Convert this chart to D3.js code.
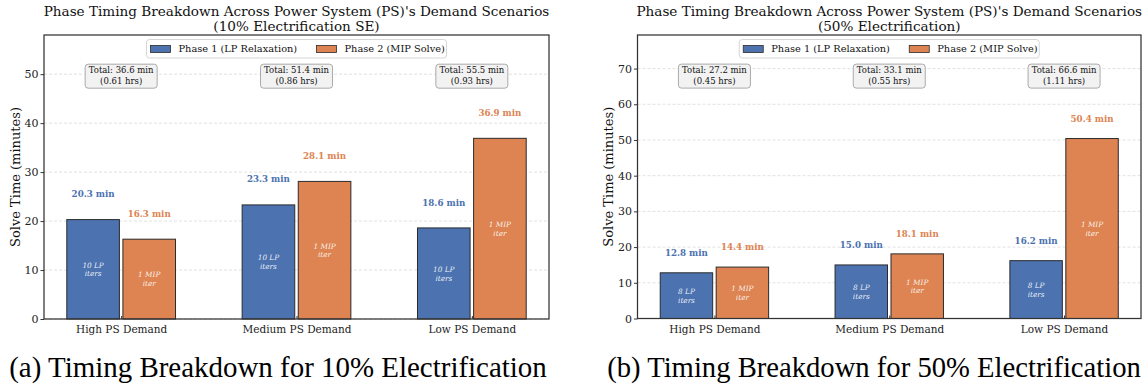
<!DOCTYPE html>
<html>
<head>
<meta charset="utf-8">
<script src="https://cdn.jsdelivr.net/npm/d3@7"></script>
<style>
  body { margin: 0; background: #fff; }
  svg { display: block; }
</style>
</head>
<body>
<div id="chart"></div>
<script>
// scenarios shared by both panels
const scenarios = ["High PS Demand", "Medium PS Demand", "Low PS Demand"];
const seriesNames = ["Phase 1 (LP Relaxation)", "Phase 2 (MIP Solve)"];

// (a) 10% electrification
const lp10 = [20.3, 23.3, 18.6];
const mip10 = [16.3, 28.1, 36.9];
const hrs10 = [0.61, 0.86, 0.93];
const lpIters10 = [10, 10, 10];
const mipIters10 = [1, 1, 1];
const yTicks10 = [0, 10, 20, 30, 40, 50];

// (b) 50% electrification
const lp50 = [12.8, 15.0, 16.2];
const mip50 = [14.4, 18.1, 50.4];
const hrs50 = [0.45, 0.55, 1.11];
const lpIters50 = [8, 8, 8];
const mipIters50 = [1, 1, 1];
const yTicks50 = [0, 10, 20, 30, 40, 50, 60, 70];

const colors = ["#4C72B0", "#DD8452"];
const SERIF = "'DejaVu Serif', serif";
const width = 1148, height = 385;

const svg = d3.select("#chart").append("svg")
  .attr("width", width)
  .attr("height", height)
  .style("font-family", SERIF);

// shrink/grow a text so it spans `target` px
function fitText(sel, base, target) {
  const len = sel.node().getComputedTextLength();
  const size = base * target / len;
  sel.style("font-size", `${size}px`);
  return size;
}

function drawPanel(cfg) {
  const g = svg.append("g");
  const { left, right, top, bottom } = cfg.box;

  const x = d3.scaleLinear().domain([-0.44, 2.44]).range([left, right]);
  const y = d3.scaleLinear().domain([0, cfg.ymax]).range([bottom, top]);
  const barW = x(0.3) - x(0);
  const off = 0.16;

  // grid
  g.append("g")
    .selectAll("line")
    .data(cfg.yTicks)
    .join("line")
    .attr("x1", left).attr("x2", right)
    .attr("y1", d => y(d)).attr("y2", d => y(d))
    .attr("stroke", "#d9d9d9")
    .attr("stroke-width", 0.8)
    .attr("stroke-dasharray", "3,2");

  const rows = scenarios.map((s, i) => ({
    i, s, lp: cfg.lp[i], mip: cfg.mip[i], hrs: cfg.hrs[i],
    lpIt: cfg.lpIters[i], mipIt: cfg.mipIters[i]
  }));

  const phases = [
    { key: "lp", dx: -off, color: colors[0], inner: d => [`${d.lpIt} LP`, "iters"] },
    { key: "mip", dx: off, color: colors[1], inner: d => [`${d.mipIt} MIP`, "iter"] }
  ];

  phases.forEach(p => {
    g.append("g").selectAll("rect")
      .data(rows)
      .join("rect")
      .attr("x", d => x(d.i + p.dx) - barW / 2)
      .attr("y", d => y(d[p.key]))
      .attr("width", barW)
      .attr("height", d => y(0) - y(d[p.key]))
      .attr("fill", p.color)
      .attr("stroke", "#2b2b2b")
      .attr("stroke-width", 1);

    // value labels above bars
    g.append("g").selectAll("text")
      .data(rows)
      .join("text")
      .attr("x", d => x(d.i + p.dx))
      .attr("y", d => y(d[p.key] + cfg.labelOff))
      .attr("dy", "0.35em")
      .attr("text-anchor", "middle")
      .style("font-size", "8.7px")
      .style("font-weight", "bold")
      .attr("fill", p.color)
      .text(d => `${d[p.key].toFixed(1)} min`);

    // iteration text inside bars
    const inner = g.append("g").selectAll("text")
      .data(rows)
      .join("text")
      .attr("text-anchor", "middle")
      .style("font-size", "7.3px")
      .style("font-style", "italic")
      .attr("fill", "#fff")
      .attr("fill-opacity", 0.9)
      .attr("transform", d => `translate(${x(d.i + p.dx)},${y(d[p.key] / 2)})`);
    inner.append("tspan").attr("x", 0).attr("y", -1.6).text(d => p.inner(d)[0]);
    inner.append("tspan").attr("x", 0).attr("y", 7.2).text(d => p.inner(d)[1]);
  });

  // total boxes
  const totals = g.append("g").selectAll("g")
    .data(rows)
    .join("g")
    .attr("transform", d => `translate(${x(d.i)},${top + (bottom - top) * 0.145})`);
  totals.append("rect")
    .attr("x", -36).attr("y", -12)
    .attr("width", 72).attr("height", 24)
    .attr("rx", 3)
    .attr("fill", "#f2f2f2")
    .attr("stroke", "#aaaaaa")
    .attr("stroke-width", 1);
  totals.append("text")
    .attr("text-anchor", "middle")
    .style("font-size", "8.5px")
    .attr("fill", "#111")
    .attr("y", -3)
    .text(d => `Total: ${(d.lp + d.mip).toFixed(1)} min`);
  totals.append("text")
    .attr("text-anchor", "middle")
    .style("font-size", "8.5px")
    .attr("fill", "#111")
    .attr("y", 7.5)
    .text(d => `(${d.hrs.toFixed(2)} hrs)`);

  // y axis
  const yAxis = g.append("g")
    .attr("transform", `translate(${left},0)`)
    .call(d3.axisLeft(y).tickValues(cfg.yTicks).tickSize(3.5).tickPadding(2));
  yAxis.attr("font-family", null).attr("font-size", null);
  yAxis.select(".domain").remove();
  yAxis.selectAll("line").attr("stroke", "#333");
  yAxis.selectAll("text").style("font-size", "11px").attr("fill", "#222");

  // x axis
  const xAxis = g.append("g")
    .attr("transform", `translate(0,${bottom})`)
    .call(d3.axisBottom(x).tickValues([0, 1, 2]).tickFormat(i => scenarios[i])
      .tickSize(-3).tickPadding(7));
  xAxis.attr("font-family", null).attr("font-size", null);
  xAxis.select(".domain").remove();
  xAxis.selectAll("line").attr("stroke", "#333");
  xAxis.selectAll("text").style("font-size", "10.5px").attr("fill", "#222");

  // spines
  g.append("rect")
    .attr("x", left).attr("y", top)
    .attr("width", right - left).attr("height", bottom - top)
    .attr("fill", "none")
    .attr("stroke", "#333")
    .attr("stroke-width", 1.25);

  // y label
  g.append("text")
    .attr("transform", `translate(${cfg.ylabelX},${(top + bottom) / 2}) rotate(-90)`)
    .attr("text-anchor", "middle")
    .attr("dy", "0.35em")
    .style("font-size", "13px")
    .attr("fill", "#111")
    .text("Solve Time (minutes)");

  // title (two lines, first one spans ~507px in the reference)
  const cx = (left + right) / 2;
  const t1 = g.append("text").attr("x", cx).attr("y", 16)
    .attr("text-anchor", "middle").style("font-size", "13.4px").attr("fill", "#111")
    .text("Phase Timing Breakdown Across Power System (PS)'s Demand Scenarios");
  const tSize = fitText(t1, 13.4, 506);
  g.append("text").attr("x", cx).attr("y", 31)
    .attr("text-anchor", "middle").style("font-size", `${tSize}px`).attr("fill", "#111")
    .text(cfg.subtitle);

  // legend
  const lg = g.append("g").attr("transform", `translate(${cx - 150},${top + 4.5})`);
  lg.append("rect")
    .attr("width", 300).attr("height", 18.5).attr("rx", 3)
    .attr("fill", "#fff").attr("fill-opacity", 0.85)
    .attr("stroke", "#cccccc").attr("stroke-width", 0.8);
  const items = [{ x: 4 }, { x: 170 }];
  items.forEach((it, k) => {
    lg.append("rect")
      .attr("x", it.x).attr("y", 6).attr("width", 20).attr("height", 7)
      .attr("fill", colors[k]).attr("stroke", "#2b2b2b").attr("stroke-width", 0.8);
    lg.append("text")
      .attr("x", it.x + 28).attr("y", 9.5).attr("dy", "0.35em")
      .style("font-size", "9.8px").attr("fill", "#111")
      .text(seriesNames[k]);
  });

  // caption, sized to span the panel width like the reference
  const cap = svg.append("text")
    .attr("x", cfg.captionX).attr("y", 377)
    .attr("text-anchor", "middle")
    .style("font-family", "'Liberation Serif', serif")
    .style("font-size", "26px")
    .attr("fill", "#000")
    .text(cfg.caption);
  fitText(cap, 26, cfg.captionW);
}

drawPanel({
  box: { left: 44, right: 549, top: 35, bottom: 319 },
  ymax: 58, yTicks: yTicks10, labelOff: 5.2,
  lp: lp10, mip: mip10, hrs: hrs10, lpIters: lpIters10, mipIters: mipIters10,
  ylabelX: 15, subtitle: "(10% Electrification SE)",
  captionX: 278, captionW: 538, caption: "(a) Timing Breakdown for 10% Electrification"
});

drawPanel({
  box: { left: 637.5, right: 1141, top: 35, bottom: 318.5 },
  ymax: 79.4, yTicks: yTicks50, labelOff: 5.5,
  lp: lp50, mip: mip50, hrs: hrs50, lpIters: lpIters50, mipIters: mipIters50,
  ylabelX: 608, subtitle: "(50% Electrification)",
  captionX: 874, captionW: 534, caption: "(b) Timing Breakdown for 50% Electrification"
});
</script>
</body>
</html>
